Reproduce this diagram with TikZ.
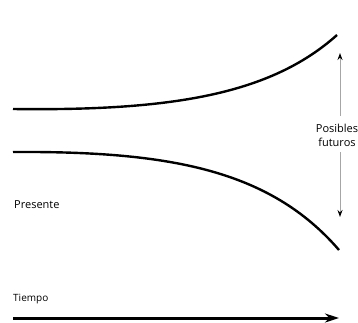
\documentclass[tikz,border=0pt]{standalone}
\usepackage{fontspec}
\setmainfont{Open Sans}
\usetikzlibrary{arrows.meta}
\begin{document}
\begin{tikzpicture}[x=1pt,y=-1pt,
  curve/.style={line width=2.4pt},
  guide/.style={draw=gray!70,line width=1pt,-{Stealth[length=7pt,width=5pt,color=black]}},
  lbl/.style={font=\fontsize{11}{14}\selectfont,inner sep=0pt}]
\useasboundingbox (0,0) rectangle (358,322);
% branching futures
\coordinate (u0) at (13,109);
\coordinate (u1) at (337,35);
\coordinate (l0) at (13,152);
\coordinate (l1) at (339,250);
\draw[curve] (u0) .. controls (170,111) and (270,95) .. (u1);
\draw[curve] (l0) .. controls (170,151) and (270,170) .. (l1);
% label and guide arrows
\node[lbl,align=center] (fut) at (337,135) {Posibles\\futuros};
\coordinate (upA) at (340,53);
\coordinate (dnA) at (340,217);
\draw[guide] (340,116) -- (upA);
\draw[guide] (340,152) -- (dnA);
\node[lbl,anchor=west] (pres) at (14,205) {Presente};
% time axis
\node[lbl,anchor=west,font=\fontsize{10}{12}\selectfont] (tiem) at (13,299) {Tiempo};
\coordinate (t0) at (13,318);
\coordinate (t1) at (339,318);
\draw[line width=3pt,-{Stealth[length=14pt,width=9pt]}] (t0) -- (t1);
\end{tikzpicture}
\end{document}
